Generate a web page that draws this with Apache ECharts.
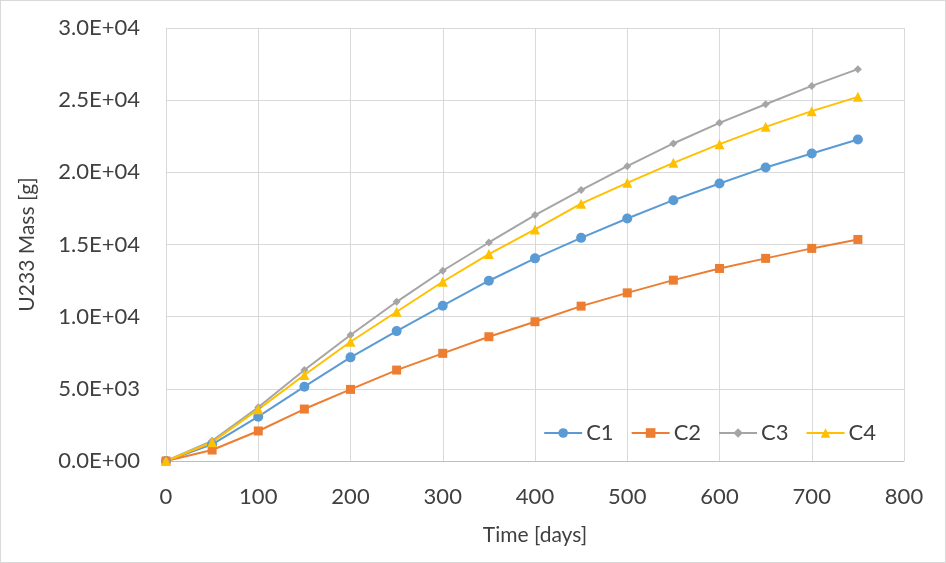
<!DOCTYPE html>
<html>
<head>
<meta charset="utf-8">
<script src="https://cdn.jsdelivr.net/npm/echarts@6/dist/echarts.min.js"></script>
<style>
html,body{margin:0;padding:0;background:#fff;}
#wrap{width:946px;height:563px;box-sizing:border-box;border:1px solid #d9d9d9;position:relative;}
#chart{position:absolute;left:0;top:0;width:944px;height:561px;}
</style>
</head>
<body>
<div id="wrap"><div id="chart"></div></div>
<script>
var days = [0, 50, 100, 150, 200, 250, 300, 350, 400, 450, 500, 550, 600, 650, 700, 750];
var c1 = [0, 1150, 3070, 5150, 7180, 9000, 10760, 12490, 14040, 15460, 16800, 18070, 19230, 20340, 21310, 22280];
var c2 = [0, 760, 2080, 3600, 4960, 6300, 7460, 8610, 9650, 10730, 11650, 12530, 13340, 14040, 14730, 15350];
var c3 = [0, 1400, 3720, 6300, 8730, 11030, 13180, 15140, 17040, 18770, 20430, 22000, 23430, 24720, 25990, 27150];
var c4 = [0, 1300, 3580, 5960, 8260, 10340, 12420, 14340, 16040, 17830, 19270, 20660, 21950, 23150, 24240, 25230];
var seriesNames = ['C1', 'C2', 'C3', 'C4'];
var seriesColors = ['#5B9BD5', '#ED7D31', '#A5A5A5', '#FFC000'];

function pairs(arr) { return days.map(function (d, i) { return [d, arr[i]]; }); }
function sci(v) {
  if (v === 0) return '0.0E+00';
  var e = Math.floor(Math.log10(Math.abs(v)));
  var m = v / Math.pow(10, e);
  if (Math.abs(m) >= 9.95) { m /= 10; e += 1; }
  var es = (e < 0 ? '-' : '+') + (Math.abs(e) < 10 ? '0' : '') + Math.abs(e);
  return m.toFixed(1) + 'E' + es;
}

var font = 'Lato, "Open Sans", sans-serif';
var txt = '#404040';
var symbols = ['circle', 'rect', 'diamond', 'triangle'];
var sizes = [10, 9, 8, 10];
var all = [c1, c2, c3, c4];

var chart = echarts.init(document.getElementById('chart'), null, {renderer: 'canvas'});
chart.setOption({
  animation: false,
  backgroundColor: '#fff',
  textStyle: {fontFamily: font},
  grid: {left: 165, right: 41, top: 27, bottom: 101, containLabel: false},
  legend: {
    right: 64, top: 416,
    itemWidth: 38, itemHeight: 12, itemGap: 17,
    textStyle: {fontFamily: font, fontSize: 22, color: txt, padding: [0, 0, 0, -1]},
    data: seriesNames
  },
  xAxis: {
    type: 'value', min: 0, max: 800, interval: 100,
    name: 'Time [days]', nameLocation: 'middle', nameGap: 64,
    nameTextStyle: {fontFamily: font, fontSize: 21, color: txt},
    axisLine: {show: true, lineStyle: {color: '#bfbfbf', width: 1}},
    axisTick: {show: false},
    axisLabel: {fontFamily: font, fontSize: 22, color: txt, margin: 25},
    splitLine: {show: true, lineStyle: {color: '#d9d9d9', width: 1}}
  },
  yAxis: {
    type: 'value', min: 0, max: 30000, interval: 5000,
    name: 'U233 Mass [g]', nameLocation: 'middle', nameGap: 128, nameRotate: 90,
    nameTextStyle: {fontFamily: font, fontSize: 21, color: txt},
    axisLine: {show: false},
    axisTick: {show: false},
    axisLabel: {fontFamily: font, fontSize: 22, color: txt, margin: 26, formatter: sci},
    splitLine: {show: true, lineStyle: {color: '#d9d9d9', width: 1}}
  },
  series: seriesNames.map(function (n, i) {
    return {
      name: n, type: 'line', data: pairs(all[i]),
      symbol: symbols[i], symbolSize: sizes[i], showSymbol: true,
      lineStyle: {color: seriesColors[i], width: 2},
      itemStyle: {color: seriesColors[i], borderWidth: 0},
      emphasis: {disabled: true}
    };
  })
});
</script>
</body>
</html>
